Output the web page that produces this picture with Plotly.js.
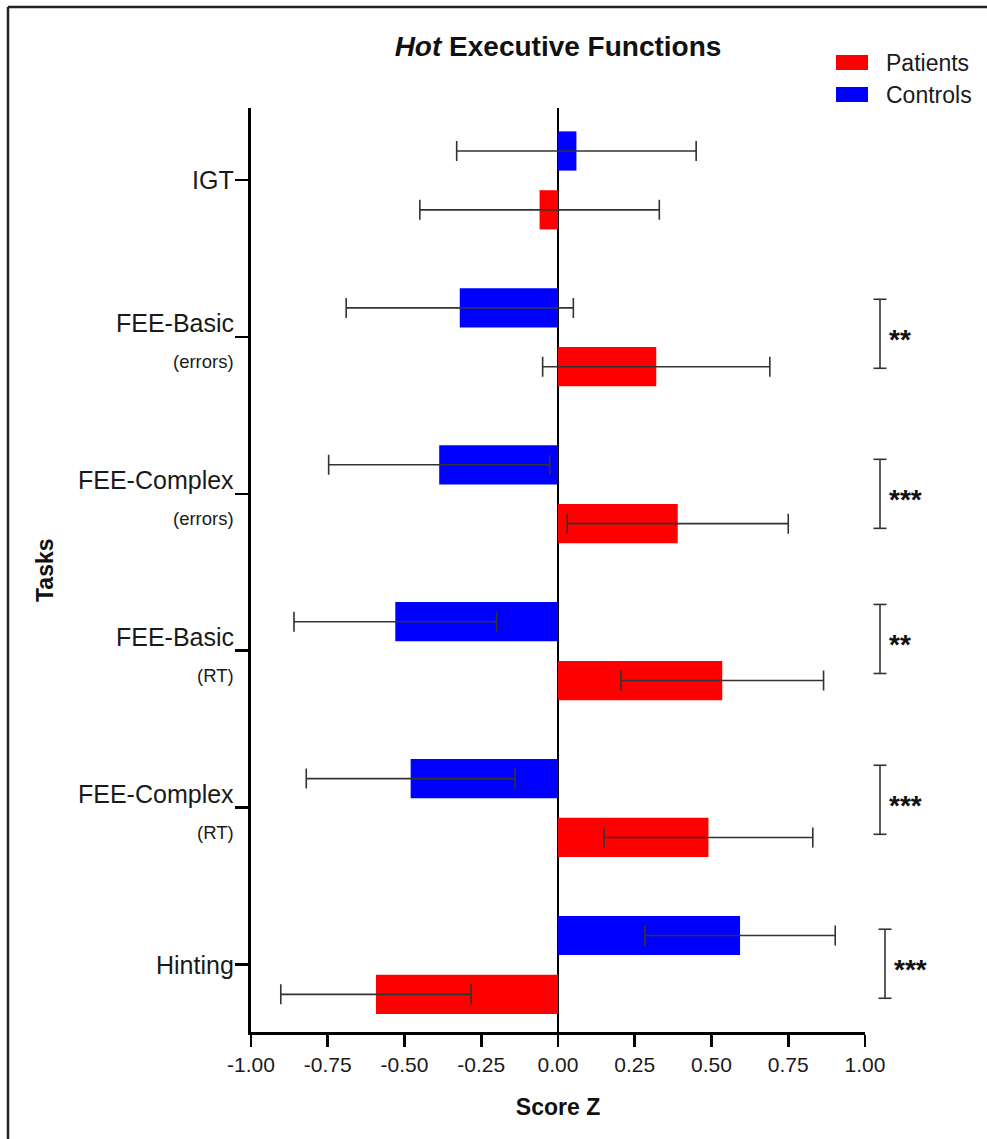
<!DOCTYPE html>
<html>
<head>
<meta charset="utf-8">
<script src="https://cdn.plot.ly/plotly-3.0.1.min.js"></script>
<style>
  html, body { margin: 0; padding: 0; background: #ffffff; }
  #chart { width: 987px; height: 1139px; }
</style>
</head>
<body>
<div id="chart"></div>
<script>
// ---------------- data ----------------
const tasks = ['IGT', 'FEE-Basic (errors)', 'FEE-Complex (errors)', 'FEE-Basic (RT)', 'FEE-Complex (RT)', 'Hinting'];
const taskMain = ['IGT', 'FEE-Basic', 'FEE-Complex', 'FEE-Basic', 'FEE-Complex', 'Hinting'];
const taskSub = ['', '(errors)', '(errors)', '(RT)', '(RT)', ''];

const patientsMean = [-0.06, 0.32, 0.39, 0.535, 0.49, -0.593];
const patientsErr  = [0.39, 0.37, 0.36, 0.33, 0.34, 0.31];
const controlsMean = [0.06, -0.32, -0.387, -0.53, -0.48, 0.593];
const controlsErr  = [0.39, 0.37, 0.36, 0.33, 0.34, 0.31];

const xTicks = [-1.00, -0.75, -0.50, -0.25, 0.00, 0.25, 0.50, 0.75, 1.00];

const sigTasks  = ['FEE-Basic (errors)', 'FEE-Complex (errors)', 'FEE-Basic (RT)', 'FEE-Complex (RT)', 'Hinting'];
const sigLabels = ['**', '***', '**', '***', '***'];

// ---------------- layout helpers ----------------
const W = 987, H = 1139;
const L = 251, R = 865, T = 108, B = 1032;
const px2x = px => (px - L) / (R - L);
const px2y = py => (B - py) / (B - T);
const FONT = '"Liberation Sans", Arial, Helvetica, sans-serif';
const RED = '#FF0000', BLUE = '#0000FF';

// bracket placement (style): horizontal pixel position and vertical nudge in category units
const bracketPx    = [880, 880, 880, 880, 885];
const bracketNudge = [-0.02, 0, -0.075, -0.05, -0.005];

const traces = [
  {
    type: 'bar', orientation: 'h', name: 'Controls',
    y: tasks, x: controlsMean,
    width: 0.25, offset: -0.31,
    marker: { color: BLUE, line: { width: 0 } },
    error_x: { type: 'data', array: controlsErr, visible: true, color: '#333333', thickness: 1.6, width: 10 },
    hoverinfo: 'x+name'
  },
  {
    type: 'bar', orientation: 'h', name: 'Patients',
    y: tasks, x: patientsMean,
    width: 0.25, offset: 0.065,
    marker: { color: RED, line: { width: 0 } },
    error_x: { type: 'data', array: patientsErr, visible: true, color: '#333333', thickness: 1.6, width: 10 },
    hoverinfo: 'x+name'
  }
];

const shapes = [];
const annotations = [];

// frame around the figure (top and left edges visible)
shapes.push({ type: 'line', xref: 'paper', yref: 'paper', x0: px2x(8), x1: px2x(990), y0: px2y(7), y1: px2y(7), line: { color: '#222', width: 2.5 } });
shapes.push({ type: 'line', xref: 'paper', yref: 'paper', x0: px2x(8), x1: px2x(8), y0: px2y(7), y1: px2y(1145), line: { color: '#222', width: 2.5 } });

// task labels (two-line style)
tasks.forEach((t, i) => {
  const hasSub = taskSub[i] !== '';
  annotations.push({
    xref: 'paper', yref: 'y', x: 0, y: t, xanchor: 'right', yanchor: 'middle',
    xshift: -15, yshift: hasSub ? 14 : 0, showarrow: false,
    text: taskMain[i], font: { family: FONT, size: 25, color: '#1a1a1a' }
  });
  if (hasSub) {
    annotations.push({
      xref: 'paper', yref: 'y', x: 0, y: t, xanchor: 'right', yanchor: 'middle',
      xshift: -15, yshift: -25, showarrow: false,
      text: taskSub[i], font: { family: FONT, size: 18.5, color: '#1a1a1a' }
    });
  }
});

// significance brackets
sigTasks.forEach((t, k) => {
  const i = tasks.indexOf(t);
  const bx = px2x(bracketPx[k]);
  const cap = 6.5 / (R - L);
  const c = i + bracketNudge[k];
  const y0 = c - 0.22, y1 = c + 0.22;
  const ln = { color: '#333', width: 1.6 };
  shapes.push({ type: 'line', xref: 'paper', yref: 'y', x0: bx, x1: bx, y0: y0, y1: y1, line: ln });
  shapes.push({ type: 'line', xref: 'paper', yref: 'y', x0: bx - cap, x1: bx + cap, y0: y0, y1: y0, line: ln });
  shapes.push({ type: 'line', xref: 'paper', yref: 'y', x0: bx - cap, x1: bx + cap, y0: y1, y1: y1, line: ln });
  annotations.push({
    xref: 'paper', yref: 'y', x: bx, y: c, xanchor: 'left', yanchor: 'middle',
    xshift: 7, yshift: -6, showarrow: false,
    text: '<b>' + sigLabels[k] + '</b>', font: { family: FONT, size: 28, color: '#111' }
  });
});

// legend (drawn manually so the swatches match)
const legendItems = [
  { name: 'Patients', color: RED, top: 55, bottom: 70, cy: 63 },
  { name: 'Controls', color: BLUE, top: 87, bottom: 102, cy: 95 }
];
legendItems.forEach(it => {
  shapes.push({ type: 'rect', xref: 'paper', yref: 'paper',
    x0: px2x(836), x1: px2x(868), y0: px2y(it.bottom), y1: px2y(it.top),
    fillcolor: it.color, line: { width: 0 } });
  annotations.push({ xref: 'paper', yref: 'paper', x: px2x(884), y: px2y(it.cy),
    xanchor: 'left', yanchor: 'middle', showarrow: false,
    text: it.name, font: { family: FONT, size: 23, color: '#1a1a1a' } });
});

// y-axis title
annotations.push({ xref: 'paper', yref: 'paper', x: px2x(45), y: 0.5, xanchor: 'center', yanchor: 'middle',
  textangle: -90, showarrow: false, text: '<b>Tasks</b>', font: { family: FONT, size: 23, color: '#111' } });

const layout = {
  width: W, height: H,
  margin: { l: L, r: W - R, t: T, b: H - B, pad: 0 },
  paper_bgcolor: '#ffffff', plot_bgcolor: '#ffffff',
  showlegend: false,
  barmode: 'overlay',
  font: { family: FONT, color: '#1a1a1a' },
  title: {
    text: '<b><i>Hot</i> Executive Functions</b>',
    font: { family: FONT, size: 28, color: '#111' },
    xref: 'paper', x: 0.5, xanchor: 'center',
    yref: 'container', y: 1 - 46 / H, yanchor: 'middle'
  },
  xaxis: {
    range: [-1, 1], tickvals: xTicks, ticktext: xTicks.map(v => v.toFixed(2)),
    ticks: 'outside', ticklen: 12, tickwidth: 2.7, tickcolor: '#000',
    showline: true, linewidth: 2.7, linecolor: '#000',
    showgrid: false, zeroline: true, zerolinecolor: '#000', zerolinewidth: 2,
    layer: 'above traces', fixedrange: true,
    tickfont: { family: FONT, size: 21, color: '#1a1a1a' },
    title: { text: '<b>Score Z</b>', standoff: 24, font: { family: FONT, size: 23, color: '#111' } }
  },
  yaxis: {
    type: 'category', categoryorder: 'array', categoryarray: tasks,
    range: [5.43, -0.459],
    ticks: 'outside', ticklen: 13, tickwidth: 2.5, tickcolor: '#000',
    showticklabels: false,
    showline: true, linewidth: 2.7, linecolor: '#000',
    showgrid: false, zeroline: false, fixedrange: true
  },
  shapes: shapes,
  annotations: annotations
};

Plotly.newPlot('chart', traces, layout, { displayModeBar: false, staticPlot: true });
</script>
</body>
</html>
